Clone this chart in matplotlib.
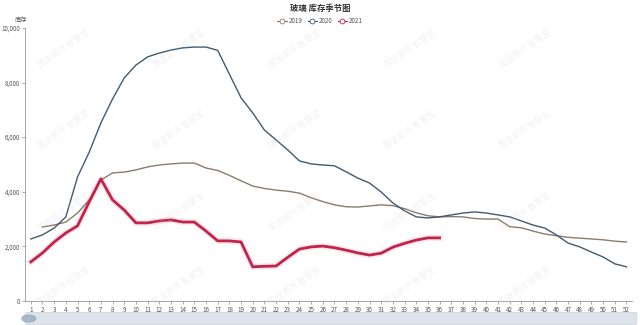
import matplotlib.pyplot as plt
from matplotlib.patches import FancyBboxPatch
import numpy as np

plt.rcParams['font.family'] = ['Noto Sans CJK SC', 'DejaVu Sans']

weeks = list(range(1, 53))

# 2019 starts at week 2
inv_2019 = [None, 2710, 2780, 2890, 3220, 3700, 4430, 4690, 4720, 4800,
            4910, 4980, 5020, 5050, 5050, 4870, 4780, 4600, 4400, 4210,
            4120, 4060, 4020, 3950, 3780, 3640, 3520, 3450, 3440, 3480,
            3520, 3490, 3380, 3230, 3120, 3080, 3090, 3080, 3020, 3000,
            3000, 2720, 2680, 2560, 2450, 2390, 2330, 2300, 2270, 2240,
            2190, 2160]
inv_2020 = [2270, 2420, 2670, 3080, 4540, 5450, 6520, 7400, 8170, 8640,
            8940, 9080, 9190, 9270, 9300, 9300, 9180, 8310, 7440, 6890,
            6260, 5900, 5530, 5130, 5020, 4980, 4950, 4730, 4500, 4320,
            3990, 3590, 3300, 3080, 3040, 3080, 3150, 3220, 3260, 3220,
            3150, 3080, 2930, 2780, 2670, 2420, 2120, 1980, 1790, 1610,
            1360, 1250]
inv_2021 = [1430, 1760, 2160, 2490, 2750, 3630, 4470, 3700, 3330, 2860,
            2860, 2930, 2970, 2890, 2890, 2560, 2200, 2200, 2160, 1250,
            1270, 1280, 1600, 1900, 1980, 2010, 1950, 1860, 1760, 1680,
            1750, 1970, 2110, 2230, 2310, 2310]

c2019 = '#8c7b6a'
c2020 = '#3f5b74'
c2021 = '#c2234a'

fig = plt.figure(figsize=(6.4, 3.25), dpi=100)
ax = fig.add_axes([0.039, 0.074, 0.949, 0.840])

x19 = [w for w, v in zip(weeks, inv_2019) if v is not None]
y19 = [v for v in inv_2019 if v is not None]
ax.plot(x19, y19, color=c2019, lw=1.0, label='2019')
ax.plot(weeks, inv_2020, color=c2020, lw=1.0, label='2020')
ax.plot(weeks[:len(inv_2021)], inv_2021, color=c2021, lw=4.5, alpha=0.1)
ax.plot(weeks[:len(inv_2021)], inv_2021, color=c2021, lw=2.0, label='2021')

ax.set_xlim(0.5, 52.5)
ax.set_ylim(0, 10000)
ax.set_xticks(weeks)
ax.set_xticklabels([str(w) for w in weeks], fontsize=4.5, color='#555555')
ax.set_yticks(range(0, 10001, 2000))
ax.set_yticklabels([f'{v:,}' for v in range(0, 10001, 2000)], fontsize=4.5, color='#555555')
ax.tick_params(axis='both', length=2, width=0.5, color='#888888', pad=1.5)
for s in ['top', 'right']:
    ax.spines[s].set_visible(False)
for s in ['left', 'bottom']:
    ax.spines[s].set_color('#999999')
    ax.spines[s].set_linewidth(0.6)

fig.text(0.5, 0.975, '玻璃 库存季节图', ha='center', va='center', fontsize=6, fontweight='bold', color='#333333')
fig.text(0.033, 0.94, '库存', ha='center', va='center', fontsize=4.5, color='#555555')

# legend with hollow circle markers
handles = []
for c, lab in [(c2019, '2019'), (c2020, '2020'), (c2021, '2021')]:
    h, = ax.plot([], [], color=c, lw=0.8, marker='o', markersize=3.5,
                 markerfacecolor='white', markeredgecolor=c, markeredgewidth=0.6, label=lab)
    handles.append(h)
fig.legend(handles=handles, loc='center', bbox_to_anchor=(0.5, 0.935), ncol=3,
           frameon=False, fontsize=4.5, handlelength=1.5, columnspacing=0.8,
           handletextpad=0.3, labelcolor='#555555')

# faint watermarks
for xw in np.arange(0.1, 1.0, 0.18):
    for yw in [0.85, 0.6, 0.35, 0.12]:
        fig.text(xw, yw, '国金期货 智慧宝', rotation=35, fontsize=6, color='#cccccc',
                 alpha=0.25, ha='center', va='center')

# data zoom slider at bottom
slider = FancyBboxPatch((0.042, 0.005), 0.95, 0.03, boxstyle='round,pad=0.003',
                        transform=fig.transFigure, facecolor='#dde3ea', edgecolor='#c8d0d8', lw=0.5)
fig.add_artist(slider)
fig.add_artist(plt.Circle((0.045, 0.02), 0.011, transform=fig.transFigure,
                          facecolor='#a7b7cc', edgecolor='#8fa0b8', lw=0.5))

fig.savefig('out.png', dpi=100)
